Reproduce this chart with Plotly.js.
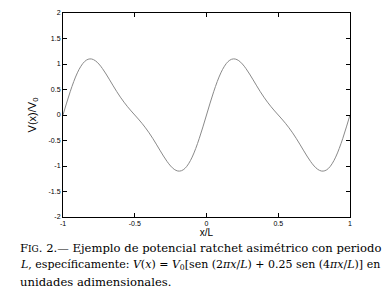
<!DOCTYPE html>
<html>
<head>
<meta charset="utf-8">
<script src="https://cdn.plot.ly/plotly-3.0.1.min.js"></script>
<style>html,body{margin:0;padding:0;background:#fff;}#chart{width:391px;height:301px;}</style>
</head>
<body>
<div id="chart"></div>
<script>
// x/L positions
const xValues = [
 -1,-0.975,-0.95,-0.925,-0.9,-0.875,-0.85,-0.825,-0.8,-0.775,-0.75,-0.725,-0.7,-0.675,-0.65,-0.625,-0.6,-0.575,-0.55,-0.525,
 -0.5,-0.475,-0.45,-0.425,-0.4,-0.375,-0.35,-0.325,-0.3,-0.275,-0.25,-0.225,-0.2,-0.175,-0.15,-0.125,-0.1,-0.075,-0.05,-0.025,
 0,0.025,0.05,0.075,0.1,0.125,0.15,0.175,0.2,0.225,0.25,0.275,0.3,0.325,0.35,0.375,0.4,0.425,0.45,0.475,
 0.5,0.525,0.55,0.575,0.6,0.625,0.65,0.675,0.7,0.725,0.75,0.775,0.8,0.825,0.85,0.875,0.9,0.925,0.95,0.975,1
];
// V(x)/V0 values
const vValues = [
 0,0.234,0.456,0.656,0.826,0.957,1.047,1.093,1.098,1.065,1.0,0.910,0.804,0.689,0.571,0.457,0.350,0.252,0.162,0.079,
 0,-0.079,-0.162,-0.252,-0.350,-0.457,-0.571,-0.689,-0.804,-0.910,-1.0,-1.065,-1.098,-1.093,-1.047,-0.957,-0.826,-0.656,-0.456,-0.234,
 0,0.234,0.456,0.656,0.826,0.957,1.047,1.093,1.098,1.065,1.0,0.910,0.804,0.689,0.571,0.457,0.350,0.252,0.162,0.079,
 0,-0.079,-0.162,-0.252,-0.350,-0.457,-0.571,-0.689,-0.804,-0.910,-1.0,-1.065,-1.098,-1.093,-1.047,-0.957,-0.826,-0.656,-0.456,-0.234,0
];
const xTicks = [-1,-0.5,0,0.5,1];
const xTickText = ['-1','-0.5','0','0.5','1'];
const yTicks = [-2,-1.5,-1,-0.5,0,0.5,1,1.5,2];
const yTickText = ['-2','-1.5','-1','-0.5','0','0.5','1','1.5','2'];
const captionLines = [
  'F<span style="font-size:9px">IG</span>. 2.— Ejemplo de potencial ratchet asimétrico con periodo',
  '<i>L</i>, específicamente: <i>V</i>(<i>x</i>) = <i>V</i><sub>0</sub>[sen (2<i>πx</i>/<i>L</i>) + 0.25 sen (4<i>πx</i>/<i>L</i>)] en',
  'unidades adimensionales.'
];
const captionSizes = [11.6, 11.0, 11.6];

const W = 391, H = 301;
const m = {l: 63, r: 41, t: 13, b: 84};
const pw = W - m.l - m.r, ph = H - m.t - m.b;
const px2x = p => (p - m.l) / pw;
const py2y = p => (H - m.b - p) / ph;
const captionY = [248, 265, 282];

const trace = {
  x: xValues, y: vValues, type: 'scatter', mode: 'lines',
  line: {color: '#8a8a8a', width: 1, shape: 'spline'},
  hoverinfo: 'skip'
};

const tickFont = {family: 'Liberation Sans, Arial, sans-serif', size: 7, color: '#000'};
const layout = {
  width: W, height: H, margin: m,
  paper_bgcolor: '#fff', plot_bgcolor: '#fff',
  showlegend: false,
  xaxis: {
    range: [-1, 1], tickvals: xTicks, ticktext: xTickText,
    ticks: 'inside', ticklen: 4, tickcolor: '#000', tickwidth: 1,
    showline: true, linecolor: '#000', linewidth: 1, mirror: 'ticks',
    showgrid: false, zeroline: false, tickfont: tickFont,
    title: {text: 'x/L', font: {family: 'Liberation Sans, Arial, sans-serif', size: 10, color: '#000'}, standoff: 2}
  },
  yaxis: {
    range: [-2, 2], tickvals: yTicks, ticktext: yTickText,
    ticks: 'inside', ticklen: 4, tickcolor: '#000', tickwidth: 1,
    showline: true, linecolor: '#000', linewidth: 1, mirror: 'ticks',
    showgrid: false, zeroline: false, tickfont: tickFont,
    title: {text: 'V(x)/V<sub>0</sub>', font: {family: 'Liberation Sans, Arial, sans-serif', size: 11, color: '#000'}, standoff: 9}
  },
  annotations: captionLines.map((t, i) => ({
    text: t, xref: 'paper', yref: 'paper',
    x: px2x(18), y: py2y(captionY[i]), xanchor: 'left', yanchor: 'middle',
    showarrow: false, align: 'left',
    font: {family: 'DejaVu Serif, Liberation Serif, serif', size: captionSizes[i], color: '#000'}
  }))
};

Plotly.newPlot('chart', [trace], layout, {staticPlot: true, displayModeBar: false});
</script>
</body>
</html>
